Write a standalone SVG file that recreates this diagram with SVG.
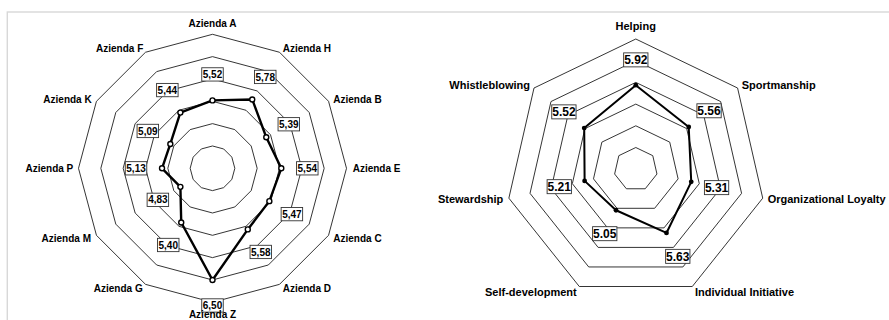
<svg xmlns="http://www.w3.org/2000/svg" width="889" height="320" viewBox="0 0 889 320">
<style>
.ring{fill:none;stroke:#1e1e1e;stroke-width:0.9}
.series{fill:none;stroke:#000;stroke-width:2.4;stroke-linejoin:round}
.series2{fill:none;stroke:#000;stroke-width:2;stroke-linejoin:round}
.mk{fill:#fff;stroke:#000;stroke-width:1.4}
.mk2{fill:#000;stroke:none}
.box{fill:#fff;stroke:#333;stroke-width:0.9}
.ax{font-family:"Liberation Sans",Arial,sans-serif;font-weight:bold;font-size:10px;fill:#000}
.ax2{font-family:"Liberation Sans",Arial,sans-serif;font-weight:bold;font-size:11px;fill:#000}
.val{font-family:"Liberation Sans Narrow","Liberation Sans",Arial,sans-serif;font-weight:bold;font-size:10px;fill:#000;text-anchor:middle}
.val2{font-family:"Liberation Sans Narrow","Liberation Sans",Arial,sans-serif;font-weight:bold;font-size:12px;fill:#000;text-anchor:middle}
.m{text-anchor:middle}.e{text-anchor:end}
</style>
<rect x="7.3" y="12" width="900" height="330" fill="none" stroke="#d8d8d8" stroke-width="1.4"/>

<g id="chart-aziende" transform="translate(212.5,168.3)">
  <g id="grid-aziende">
    <polygon class="ring" points="0,-22.33 11.17,-19.34 19.34,-11.17 22.33,0 19.34,11.17 11.17,19.34 0,22.33 -11.17,19.34 -19.34,11.17 -22.33,0 -19.34,-11.17 -11.17,-19.34"/>
    <polygon class="ring" points="0,-44.67 22.33,-38.68 38.68,-22.33 44.67,0 38.68,22.33 22.33,38.68 0,44.67 -22.33,38.68 -38.68,22.33 -44.67,0 -38.68,-22.33 -22.33,-38.68"/>
    <polygon class="ring" points="0,-67 33.5,-58.02 58.02,-33.5 67,0 58.02,33.5 33.5,58.02 0,67 -33.5,58.02 -58.02,33.5 -67,0 -58.02,-33.5 -33.5,-58.02"/>
    <polygon class="ring" points="0,-89.33 44.67,-77.36 77.36,-44.67 89.33,0 77.36,44.67 44.67,77.36 0,89.33 -44.67,77.36 -77.36,44.67 -89.33,0 -77.36,-44.67 -44.67,-77.36"/>
    <polygon class="ring" points="0,-111.67 55.83,-96.7 96.7,-55.83 111.67,0 96.7,55.83 55.83,96.7 0,111.67 -55.83,96.7 -96.7,55.83 -111.67,0 -96.7,-55.83 -55.83,-96.7"/>
    <polygon class="ring" points="0,-134 67,-116.05 116.05,-67 134,0 116.05,67 67,116.05 0,134 -67,116.05 -116.05,67 -134,0 -116.05,-67 -67,-116.05"/>
  </g>
  <g id="series-aziende">
    <polygon class="series" points="0,-67.9 39.76,-68.86 53.77,-31.05 68.79,0 56.86,32.83 35.29,61.12 0,111.67 -31.27,54.16 -32.11,18.54 -50.48,0 -42.17,-24.35 -32.16,-55.71"/>
    <circle class="mk" cx="0" cy="-67.9" r="2.5"/>
    <circle class="mk" cx="39.76" cy="-68.86" r="2.5"/>
    <circle class="mk" cx="53.77" cy="-31.05" r="2.5"/>
    <circle class="mk" cx="68.79" cy="0" r="2.5"/>
    <circle class="mk" cx="56.86" cy="32.83" r="2.5"/>
    <circle class="mk" cx="35.29" cy="61.12" r="2.5"/>
    <circle class="mk" cx="0" cy="111.67" r="2.5"/>
    <circle class="mk" cx="-31.27" cy="54.16" r="2.5"/>
    <circle class="mk" cx="-32.11" cy="18.54" r="2.5"/>
    <circle class="mk" cx="-50.48" cy="0" r="2.5"/>
    <circle class="mk" cx="-42.17" cy="-24.35" r="2.5"/>
    <circle class="mk" cx="-32.16" cy="-55.71" r="2.5"/>
  </g>
  <g id="values-aziende">
    <g id="v-A"><rect class="box" x="-10.75" y="-100.55" width="21.5" height="13.3"/><text class="val" x="0" y="-90.3">5,52</text></g>
    <g id="v-H"><rect class="box" x="42" y="-98.02" width="21.5" height="13.3"/><text class="val" x="52.76" y="-87.77">5,78</text></g>
    <g id="v-B"><rect class="box" x="65.55" y="-50.7" width="21.5" height="13.3"/><text class="val" x="76.3" y="-40.45">5,39</text></g>
    <g id="v-E"><rect class="box" x="84.05" y="-6.65" width="21.5" height="13.3"/><text class="val" x="94.8" y="3.6">5,54</text></g>
    <g id="v-C"><rect class="box" x="68.63" y="39.18" width="21.5" height="13.3"/><text class="val" x="79.38" y="49.43">5,47</text></g>
    <g id="v-D"><rect class="box" x="37.54" y="76.99" width="21.5" height="13.3"/><text class="val" x="48.29" y="87.24">5,58</text></g>
    <g id="v-Z"><rect class="box" x="-10.75" y="130.5" width="21.5" height="13.3"/><text class="val" x="0" y="140.75">6,50</text></g>
    <g id="v-G"><rect class="box" x="-55.02" y="70.03" width="21.5" height="13.3"/><text class="val" x="-44.27" y="80.28">5,40</text></g>
    <g id="v-M"><rect class="box" x="-65.38" y="24.89" width="21.5" height="13.3"/><text class="val" x="-54.63" y="35.14">4,83</text></g>
    <g id="v-P"><rect class="box" x="-87.23" y="-6.65" width="21.5" height="13.3"/><text class="val" x="-76.48" y="3.6">5,13</text></g>
    <g id="v-K"><rect class="box" x="-75.43" y="-44" width="21.5" height="13.3"/><text class="val" x="-64.68" y="-33.75">5,09</text></g>
    <g id="v-F"><rect class="box" x="-55.91" y="-84.87" width="21.5" height="13.3"/><text class="val" x="-45.16" y="-74.62">5,44</text></g>
  </g>
</g>
<g id="labels-aziende">
  <text class="ax m" x="212.5" y="26.5">Azienda A</text>
  <text class="ax" x="282.7" y="52.3">Azienda H</text>
  <text class="ax" x="333.3" y="103.3">Azienda B</text>
  <text class="ax" x="352.7" y="172.3">Azienda E</text>
  <text class="ax" x="333.3" y="241.7">Azienda C</text>
  <text class="ax" x="282.7" y="292.3">Azienda D</text>
  <text class="ax m" x="212.5" y="318.3">Azienda Z</text>
  <text class="ax e" x="142.7" y="292.3">Azienda G</text>
  <text class="ax e" x="91" y="241.7">Azienda M</text>
  <text class="ax e" x="73.3" y="172.3">Azienda P</text>
  <text class="ax e" x="91.7" y="103.3">Azienda K</text>
  <text class="ax e" x="143.3" y="52.3">Azienda F</text>
</g>

<g id="chart-ocb" transform="translate(635.8,169.2)">
  <g id="grid-ocb">
    <polygon class="ring" points="0,-21.7 16.97,-13.53 21.16,4.83 9.42,19.55 -9.42,19.55 -21.16,4.83 -16.97,-13.53"/>
    <polygon class="ring" points="0,-43.4 33.93,-27.06 42.31,9.66 18.83,39.1 -18.83,39.1 -42.31,9.66 -33.93,-27.06"/>
    <polygon class="ring" points="0,-65.1 50.9,-40.59 63.47,14.48 28.25,58.66 -28.25,58.66 -63.47,14.48 -50.9,-40.59"/>
    <polygon class="ring" points="0,-86.8 67.86,-54.12 84.62,19.31 37.66,78.21 -37.66,78.21 -84.62,19.31 -67.86,-54.12"/>
    <polygon class="ring" points="0,-108.5 84.83,-67.65 105.78,24.14 47.08,97.76 -47.08,97.76 -105.78,24.14 -84.83,-67.65"/>
    <polygon class="ring" points="0,-130.2 101.79,-81.18 126.93,28.97 56.49,117.31 -56.49,117.31 -126.93,28.97 -101.79,-81.18"/>
  </g>
  <g id="series-ocb">
    <polygon class="series2" points="0,-84 52.93,-42.21 55.43,12.65 30.69,63.74 -19.77,41.06 -51.19,11.68 -51.58,-41.13"/>
    <circle class="mk2" cx="0" cy="-84" r="2.4"/>
    <circle class="mk2" cx="52.93" cy="-42.21" r="2.4"/>
    <circle class="mk2" cx="55.43" cy="12.65" r="2.4"/>
    <circle class="mk2" cx="30.69" cy="63.74" r="2.4"/>
    <circle class="mk2" cx="-19.77" cy="41.06" r="2.4"/>
    <circle class="mk2" cx="-51.19" cy="11.68" r="2.4"/>
    <circle class="mk2" cx="-51.58" cy="-41.13" r="2.4"/>
  </g>
  <g id="values-ocb">
    <g id="v-helping"><rect class="box" x="-12.15" y="-116.33" width="24.3" height="14"/><text class="val2" x="0" y="-105.03">5.92</text></g>
    <g id="v-sport"><rect class="box" x="61.1" y="-65.42" width="24.3" height="14"/><text class="val2" x="73.25" y="-54.12">5.56</text></g>
    <g id="v-loyalty"><rect class="box" x="68.62" y="11.43" width="24.3" height="14"/><text class="val2" x="80.77" y="22.73">5.31</text></g>
    <g id="v-initiative"><rect class="box" x="29.83" y="80.16" width="24.3" height="14"/><text class="val2" x="41.98" y="91.46">5.63</text></g>
    <g id="v-selfdev"><rect class="box" x="-43.2" y="57.48" width="24.3" height="14"/><text class="val2" x="-31.05" y="68.78">5.05</text></g>
    <g id="v-steward"><rect class="box" x="-88.69" y="10.47" width="24.3" height="14"/><text class="val2" x="-76.54" y="21.77">5.21</text></g>
    <g id="v-whistle"><rect class="box" x="-84.05" y="-64.34" width="24.3" height="14"/><text class="val2" x="-71.9" y="-53.04">5.52</text></g>
  </g>
</g>
<g id="labels-ocb">
  <text class="ax2 m" x="635.7" y="29.8">Helping</text>
  <text class="ax2" x="741.7" y="88.7">Sportmanship</text>
  <text class="ax2" x="767.7" y="203">Organizational Loyalty</text>
  <text class="ax2" x="695" y="295.5">Individual Initiative</text>
  <text class="ax2 e" x="576.7" y="295.5">Self-development</text>
  <text class="ax2 e" x="503.3" y="203">Stewardship</text>
  <text class="ax2 e" x="530" y="88.7">Whistleblowing</text>
</g>
</svg>
